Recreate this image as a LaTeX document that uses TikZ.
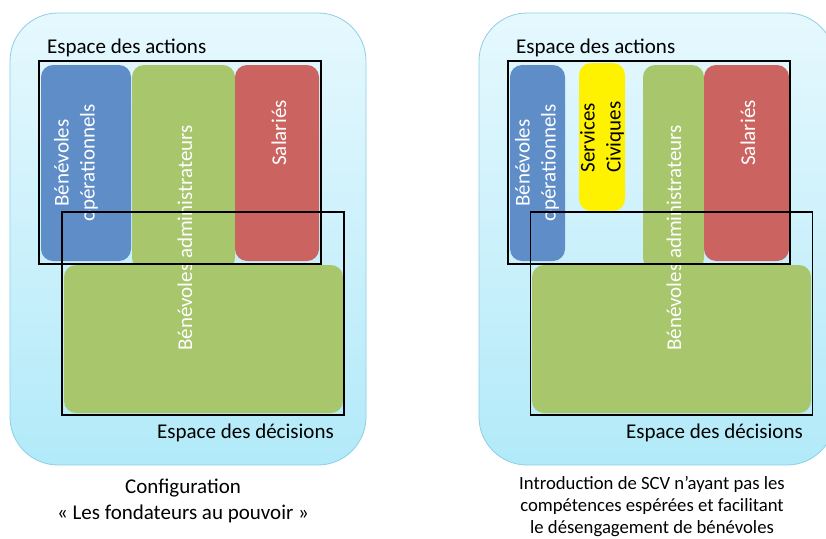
\documentclass[tikz,border=0pt]{standalone}
\usepackage{fontspec}
\setmainfont{Carlito}
\usepackage{tikz}
\usetikzlibrary{shapes.geometric}
\definecolor{skyedge}{HTML}{8CCFE4}
\definecolor{skytop}{HTML}{E6F8FE}
\definecolor{skybot}{HTML}{B2EAF9}
\definecolor{benblue}{HTML}{5F8DC7}
\definecolor{bengreen}{HTML}{A8C66C}
\definecolor{salred}{HTML}{CB6461}

\begin{document}
\begin{tikzpicture}[x=1pt,y=-1pt, every node/.style={inner sep=0pt}]
	\tikzstyle{panel}=[rectangle,rounded corners=48pt,draw=skyedge,top color=skytop,bottom color=skybot,line width=0.8pt]
	\tikzstyle{group}=[rectangle,rounded corners=12pt,minimum height=196pt]
	\tikzstyle{blue group}=[group, fill=benblue]
	\tikzstyle{green group}=[group, fill=bengreen]
	\tikzstyle{red group}=[group, fill=salred]
	\tikzstyle{yellow group}=[group, fill=yellow]
	\tikzstyle{space}=[rectangle,draw=black,line width=1.8pt,minimum width=282pt,minimum height=203pt]
	\tikzstyle{vlabel}=[rotate=90,font=\fontsize{21}{26}\selectfont,align=center,text=white]
	\tikzstyle{annot}=[font=\fontsize{21}{26}\selectfont]

	\clip (0,0) rectangle (826,538);
	\useasboundingbox (0,0) rectangle (826,538);

	% Draw the two panels
	\node[panel,minimum width=356pt,minimum height=452pt] (panel1) at (188,239) {};
	\node[panel,minimum width=356pt,minimum height=452pt] (panel2) at (657,239) {};

	% Draw the groups (left)
	\node[blue group,minimum width=90pt] (ope1) at (86,163) {};
	\node[green group,minimum width=103pt,minimum height=205pt] (adm1) at (183.5,167.5) {};
	\node[red group,minimum width=84pt] (sal1) at (277,163) {};
	\node[green group,minimum width=279pt,minimum height=148pt] (dec1) at (203.5,339) {};

	% Draw the groups (right)
	\node[blue group,minimum width=55pt] (ope2) at (537.5,163) {};
	\node[yellow group,minimum width=46pt,minimum height=148pt] (scv2) at (602,137) {};
	\node[green group,minimum width=61pt,minimum height=205pt] (adm2) at (673.5,167.5) {};
	\node[red group,minimum width=85pt] (sal2) at (746.5,163) {};
	\node[green group,minimum width=279pt,minimum height=148pt] (dec2) at (671.5,339) {};

	% Labels of the groups
	\node[vlabel] (ope1_txt) at (76,163) {Bénévoles\\opérationnels};
	\node[vlabel] (adm1_txt) at (185,238) {Bénévoles administrateurs};
	\node[vlabel] (sal1_txt) at (279,133) {Salariés};
	\node[vlabel] (ope2_txt) at (537,163) {Bénévoles\\opérationnels};
	\node[vlabel,text=black,align=left] (scv2_txt) at (602,137) {Services\\Civiques};
	\node[vlabel] (adm2_txt) at (674,238) {Bénévoles administrateurs};
	\node[vlabel] (sal2_txt) at (748,133) {Salariés};

	% Draw the spaces
	\node[space] (act1) at (180,162.5) {};
	\node[space] (dcs1) at (203,313.5) {};
	\node[space] (act2) at (649,162.5) {};
	\node[space] (dcs2) at (671.5,313.5) {};

	% Annotate the spaces
	\node[annot,anchor=base west] (act1_txt) at (47,53) {Espace des actions};
	\node[annot,anchor=base east] (dcs1_txt) at (334,438) {Espace des décisions};
	\node[annot,anchor=base west] (act2_txt) at (516,53) {Espace des actions};
	\node[annot,anchor=base east] (dcs2_txt) at (803,438) {Espace des décisions};

	% Captions
	\node[annot,align=center,anchor=base] (cap1) at (183,519) {Configuration\\« Les fondateurs au pouvoir »};
	\node[align=center,anchor=base,font=\fontsize{18.7}{22}\selectfont] (cap2) at (652,533) {Introduction de SCV n’ayant pas les\\compétences espérées et facilitant\\le désengagement de bénévoles};
\end{tikzpicture}
\end{document}
